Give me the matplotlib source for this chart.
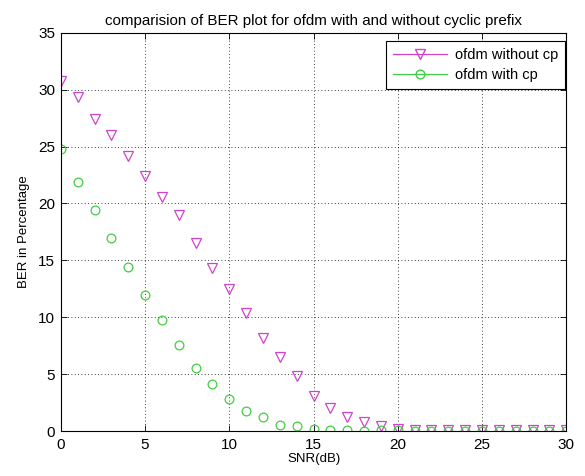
import numpy as np
import matplotlib
matplotlib.use('Agg')
import matplotlib.pyplot as plt
from matplotlib.lines import Line2D

# SNR values (dB)
snr_db = list(range(0, 31))

# BER (%)
ber_without_cp = [30.8, 29.4, 27.4, 26.0, 24.2, 22.4, 20.6, 19.0, 16.5, 14.3,
                  12.5, 10.4, 8.2, 6.5, 4.8, 3.1, 2.05, 1.25, 0.75, 0.4,
                  0.2, 0.1, 0.08, 0.05, 0.05, 0.05, 0.05, 0.05, 0.05, 0.05, 0.05]
ber_with_cp = [24.8, 21.9, 19.4, 17.0, 14.45, 12.0, 9.8, 7.6, 5.55, 4.15,
               2.8, 1.75, 1.2, 0.55, 0.4, 0.2, 0.05, 0.05, 0.0, 0.1,
               0.05, 0.0, 0.0, 0.0, 0.0, 0.0, 0.0, 0.0, 0.0, 0.0, 0.0]

labels = ['ofdm without cp', 'ofdm with cp']
colors = ['#cc44cc', '#44cc44']

plt.rcParams['font.family'] = ['Liberation Sans', 'DejaVu Sans']

fig = plt.figure(figsize=(5.85, 4.76), dpi=100)
ax = fig.add_axes([0.104, 0.0945, 0.864, 0.8365])

ax.plot(snr_db, ber_without_cp, linestyle='none', marker='v', markersize=7,
        markerfacecolor='none', markeredgecolor=colors[0], markeredgewidth=0.9)
ax.plot(snr_db, ber_with_cp, linestyle='none', marker='o', markersize=6.3,
        markerfacecolor='none', markeredgecolor=colors[1], markeredgewidth=0.9)

ax.set_xlim(0, 30)
ax.set_ylim(0, 35)
ax.set_xticks(range(0, 31, 5))
ax.set_yticks(range(0, 36, 5))
ax.grid(True, color='black', linestyle=(0, (1, 3)), linewidth=0.6)
ax.tick_params(direction='in', length=4, width=0.6, labelsize=11,
               top=True, right=True)
ax.tick_params(axis='x', pad=5)
ax.tick_params(axis='y', pad=4)
for sp in ax.spines.values():
    sp.set_linewidth(0.8)

ax.set_title('comparision of BER plot for ofdm with and without cyclic prefix',
             fontsize=10.9, pad=6)
ax.set_xlabel('SNR(dB)', fontsize=9.5, labelpad=1)
ax.set_ylabel('BER in Percentage', fontsize=9.5, labelpad=6)

# legend shows line + marker like the MATLAB original
handles = [
    Line2D([], [], color=colors[0], linewidth=0.9, marker='v', markersize=7,
           markerfacecolor='none', markeredgecolor=colors[0]),
    Line2D([], [], color=colors[1], linewidth=0.9, marker='o', markersize=6.3,
           markerfacecolor='none', markeredgecolor=colors[1]),
]
leg = ax.legend(handles, labels, loc='upper right', bbox_to_anchor=(0.998, 0.98),
                fontsize=10.5, fancybox=False, edgecolor='black', framealpha=1,
                handlelength=3.7, handletextpad=0.5, borderaxespad=0,
                labelspacing=0.4, borderpad=0.5)
leg.get_frame().set_linewidth(0.8)

fig.savefig('out.png', dpi=100)
